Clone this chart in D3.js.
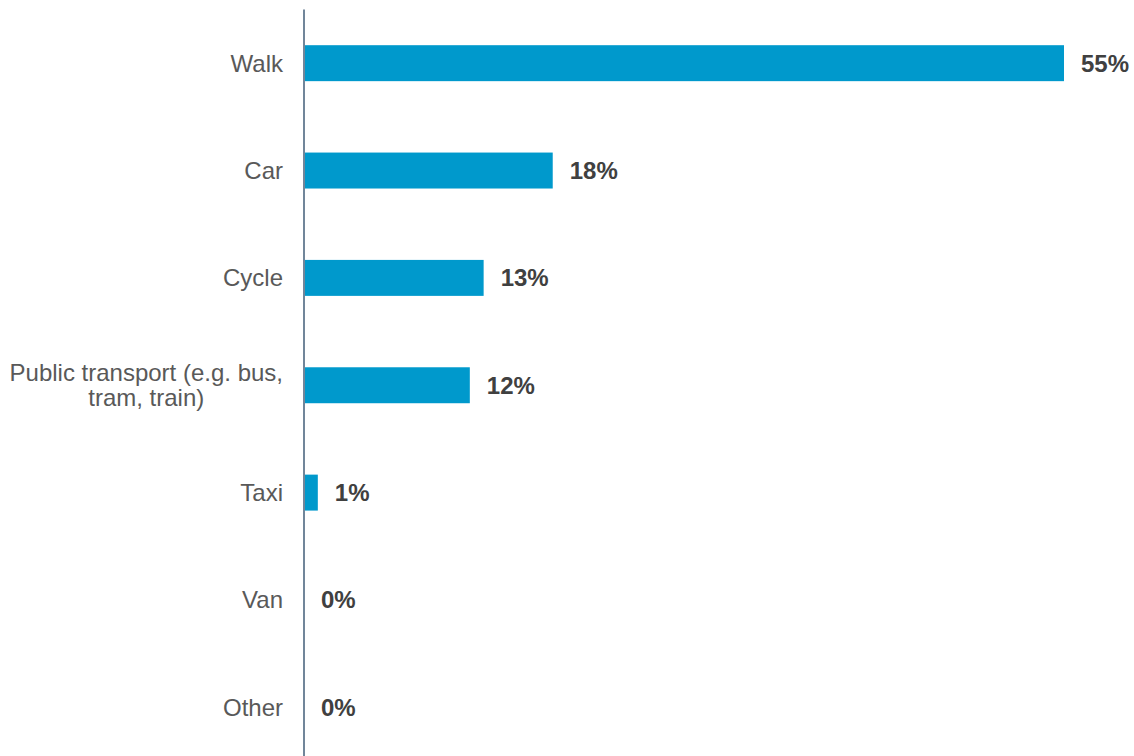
<!DOCTYPE html>
<html>
<head>
<meta charset="utf-8">
<script src="https://cdn.jsdelivr.net/npm/d3@7"></script>
<style>
  html, body { margin: 0; padding: 0; background: #ffffff; }
  svg { display: block; }
</style>
</head>
<body>
<svg id="chart" width="1134" height="756"></svg>
<script>
// Main mode of travel, share of respondents (%)
const categories = ["Walk", "Car", "Cycle", "Public transport (e.g. bus, tram, train)", "Taxi", "Van", "Other"];
const categoryLines = [["Walk"], ["Car"], ["Cycle"], ["Public transport (e.g. bus,", "tram, train)"], ["Taxi"], ["Van"], ["Other"]];
const values = [55, 18, 13, 12, 1, 0, 0];
const valueLabels = ["55%", "18%", "13%", "12%", "1%", "0%", "0%"];

const width = 1134, height = 756;
const svg = d3.select("#chart");

const x = d3.scaleLinear().domain([0, 55]).range([304, 1064]);
const y = d3.scaleBand()
  .domain(categories)
  .range([9.5, 761])
  .paddingInner(0.665)
  .paddingOuter(0.3325);

const rows = categories.map((c, i) => ({ c, v: values[i], label: valueLabels[i], lines: categoryLines[i] }));

// Bars
svg.append("g")
  .selectAll("rect")
  .data(rows)
  .join("rect")
  .attr("x", x(0))
  .attr("y", d => y(d.c))
  .attr("width", d => x(d.v) - x(0))
  .attr("height", y.bandwidth())
  .attr("fill", "#0099cc");

// Value labels
svg.append("g")
  .selectAll("text")
  .data(rows)
  .join("text")
  .attr("x", d => x(d.v) + 17)
  .attr("y", d => y(d.c) + y.bandwidth() / 2)
  .attr("dy", "0.35em")
  .attr("font-family", "Liberation Sans, Arial, sans-serif")
  .attr("font-size", 24)
  .attr("font-weight", "bold")
  .attr("fill", "#404040")
  .text(d => d.label);

// Category labels (multi-line labels are centred as a block, right edge at the axis gap)
const labelRight = 283;
const lineHeight = 25;
const catG = svg.append("g");
rows.forEach(d => {
  const cy = y(d.c) + y.bandwidth() / 2;
  const n = d.lines.length;
  const t = catG.append("text")
    .attr("font-family", "Liberation Sans, Arial, sans-serif")
    .attr("font-size", 24)
    .attr("fill", "#595959");
  const spans = d.lines.map((ln, j) => t.append("tspan")
    .attr("y", cy + (j - (n - 1) / 2) * lineHeight)
    .attr("dy", "0.35em")
    .text(ln));
  if (n === 1) {
    t.attr("text-anchor", "end");
    spans[0].attr("x", labelRight);
  } else {
    const widest = d3.max(spans, s => s.node().getComputedTextLength());
    const mid = labelRight - widest / 2;
    t.attr("text-anchor", "middle");
    spans.forEach(s => s.attr("x", mid));
  }
});

// Category axis line
svg.append("line")
  .attr("x1", x(0)).attr("x2", x(0))
  .attr("y1", 9.5).attr("y2", height)
  .attr("stroke", "#71869a")
  .attr("stroke-width", 2);
</script>
</body>
</html>
